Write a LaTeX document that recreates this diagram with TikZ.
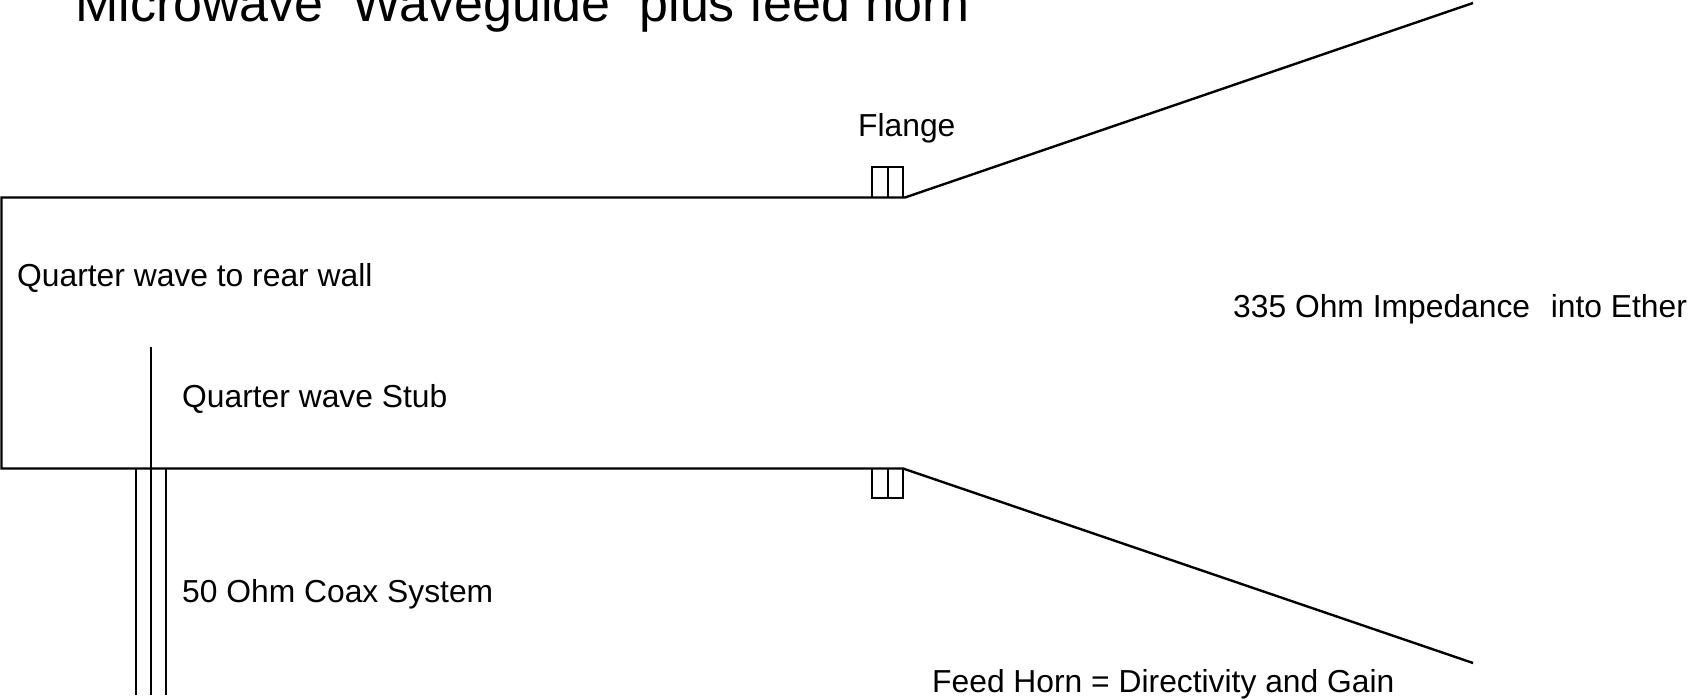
\documentclass[tikz,border=0pt]{standalone}
\usepackage{fontspec}
\setmainfont{Liberation Sans}
\tikzset{
    label text/.style={anchor=base west, inner sep=0pt, font=\fontsize{31.8}{32}\selectfont},
    title text/.style={anchor=base west, inner sep=0pt, font=\fontsize{52}{52}\selectfont},
    guide wall/.style={line width=2.4pt},
    thin wall/.style={line width=2pt}
}

\begin{document}
\begin{tikzpicture}[x=1pt, y=-1pt]
    \useasboundingbox (0, 0) rectangle (1692, 700);
    \clip (0, 0) rectangle (1692, 700);
    \fill[white] (0, 0) rectangle (1692, 700);

    \coordinate (rearTop) at (1.5, 197.5);
    \coordinate (rearBottom) at (1.5, 468.5);
    \coordinate (throatTop) at (905, 197.5);
    \coordinate (throatBottom) at (903, 468.5);
    \coordinate (hornTop) at (1473, 3);
    \coordinate (hornBottom) at (1473, 663);
    \coordinate (stubTip) at (151, 347.5);
    \coordinate (stubFoot) at (151, 695);
    \coordinate (coaxLeftTop) at (136, 468.5);
    \coordinate (coaxLeftFoot) at (136, 695);
    \coordinate (coaxRightTop) at (166, 468.5);
    \coordinate (coaxRightFoot) at (166, 695);

    \node[title text] (title) at (75, 22) {Microwave\ \ Waveguide\ \ plus feed horn};
    \node[label text] (flange) at (858, 137) {Flange};
    \node[label text] (rearWall) at (17, 287) {Quarter wave to rear wall};
    \node[label text] (stub) at (182, 408) {Quarter wave Stub};
    \node[label text] (coax) at (182, 602.5) {50 Ohm Coax System};
    \node[label text] (ether) at (1233, 318) {335 Ohm Impedance\ \ \kern3pt into Ether};
    \node[label text] (feedHorn) at (932, 692) {Feed Horn = Directivity and Gain};

    \draw[guide wall] (hornTop) -- (throatTop) -- (rearTop) -- (rearBottom) -- (throatBottom) -- (hornBottom);
    \draw[thin wall] (stubTip) -- (stubFoot);
    \draw[thin wall] (coaxLeftTop) -- (coaxLeftFoot);
    \draw[thin wall] (coaxRightTop) -- (coaxRightFoot);

    % flange blocks
    \foreach \flangeY/\flangeEnd in {197.5/167.5, 468.5/497.5} {
        \draw[thin wall] (872, \flangeY) -- (872, \flangeEnd) -- (903, \flangeEnd) -- (903, \flangeY);
        \draw[thin wall] (887.5, \flangeY) -- (887.5, \flangeEnd);
    }
\end{tikzpicture}
\end{document}
